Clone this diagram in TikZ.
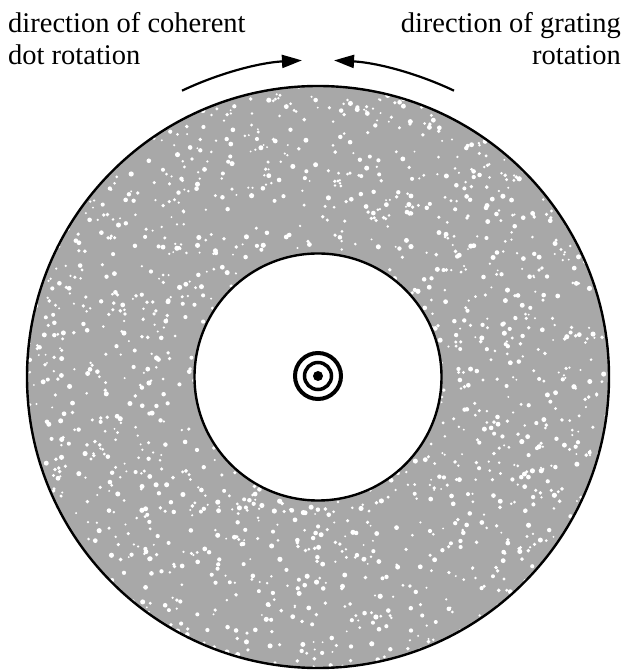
\documentclass[tikz,border=0pt]{standalone}
\usepackage{fontspec}
\setmainfont{Liberation Serif}
\newfontfamily\labelfont{Liberation Serif}
\usetikzlibrary{arrows.meta}
\tikzset{
  lbl/.style={inner sep=0pt, font=\labelfont\fontsize{28.5}{32}\selectfont},
  rotarrow/.style={line width=2.2pt, -{Triangle[length=20pt,width=13pt]}},
  ringline/.style={draw=black, line width=2.4pt},
}
\begin{document}
\begin{tikzpicture}[x=1pt,y=1pt]
\useasboundingbox (0,0) rectangle (629,670);
\coordinate (c) at (318,293);
% annulus fill with speckles
\begin{scope}
  \clip (c) circle (291);
  \fill[black!34] (c) circle (291);
  \pgfmathsetseed{12}
  \foreach \i in {1,...,2200} {
    \pgfmathsetmacro\px{318+(2*rnd-1)*292}
    \pgfmathsetmacro\py{293+(2*rnd-1)*292}
    \pgfmathsetmacro\pr{1.0+1.6*rnd}
    \fill[white] (\px,\py) circle (\pr);
  }
\end{scope}
\node[circle, ringline, minimum size=582pt, inner sep=0pt] (outer) at (c) {};
\node[circle, ringline, fill=white, minimum size=247pt, inner sep=0pt] (inner) at (c) {};
% target
\node[circle, draw=black, line width=4pt, minimum size=46pt, inner sep=0pt] (t1) at (318,294) {};
\node[circle, draw=black, line width=3.5pt, minimum size=27pt, inner sep=0pt] (t2) at (318,294) {};
\node[circle, fill=black, minimum size=10pt, inner sep=0pt] (t3) at (318,294) {};
% arrows
\draw[rotarrow] (c) ++(115.4:317) arc[start angle=115.4, end angle=92.9, radius=317];
\draw[rotarrow] (c) ++(64.6:317) arc[start angle=64.6, end angle=87.1, radius=317];
% labels
\node[lbl, anchor=base west] (l1) at (8,637) {direction of coherent};
\node[lbl, anchor=base west] (l2) at (8,605) {dot rotation};
\node[lbl, anchor=base east] (r1) at (621,637) {direction of grating};
\node[lbl, anchor=base east] (r2) at (621,605) {rotation};
\end{tikzpicture}
\end{document}
